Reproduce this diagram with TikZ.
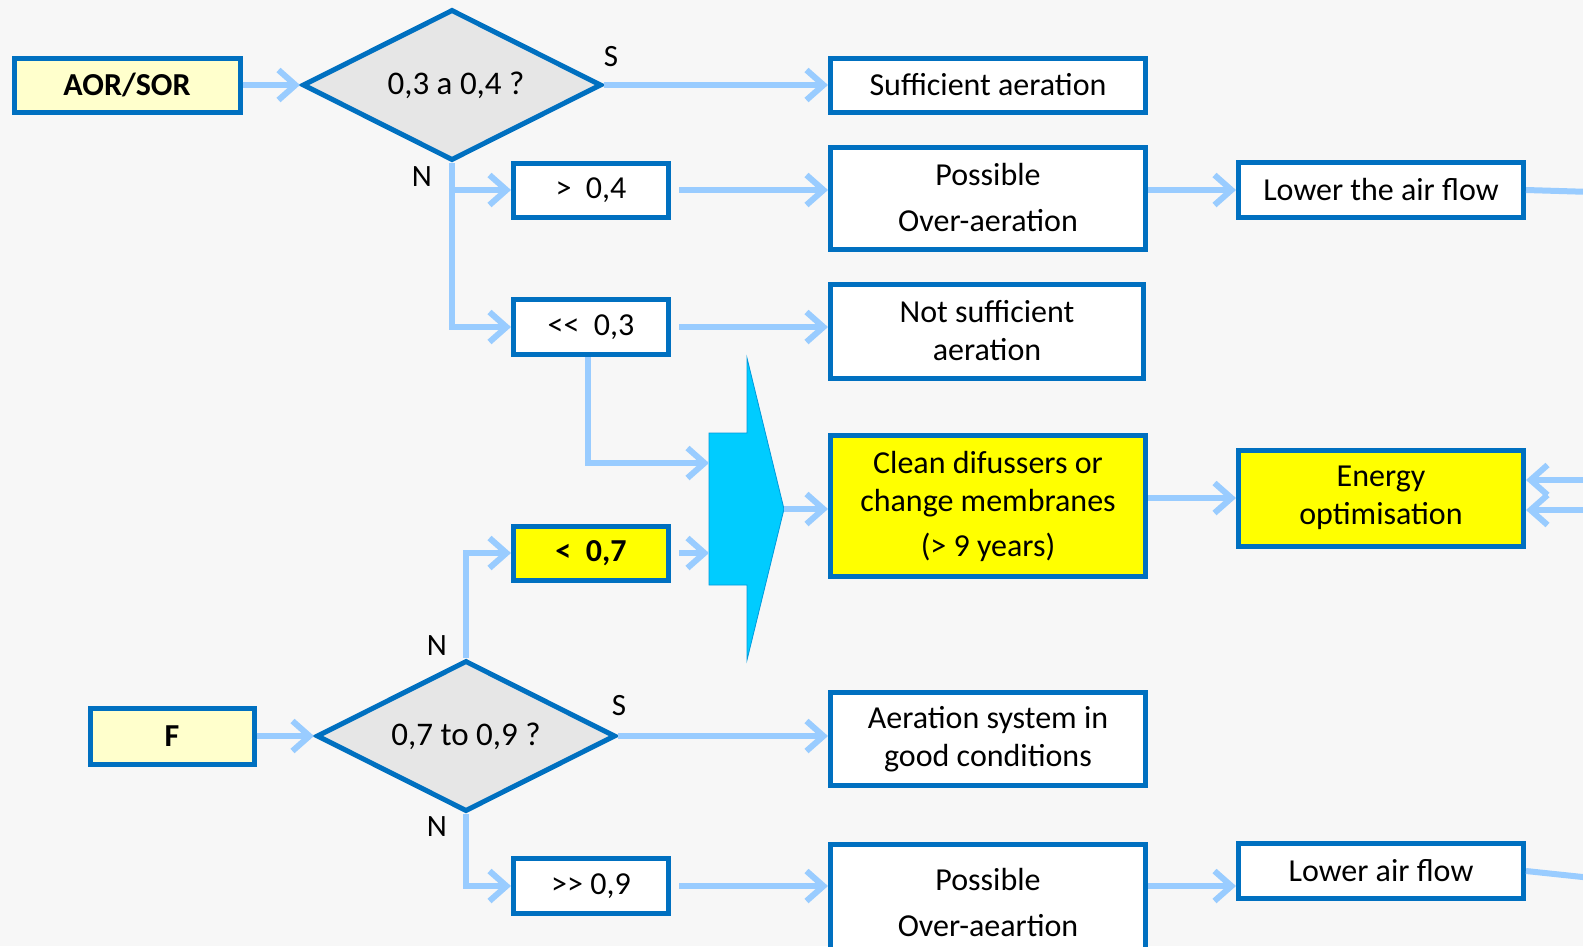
\documentclass[tikz,border=0pt]{standalone}
\usepackage{fontspec}
\setmainfont{Carlito}
\usetikzlibrary{arrows.meta,shapes.geometric}
\definecolor{bordc}{HTML}{0070C0}
\definecolor{connc}{HTML}{99CCFF}
\definecolor{lyelc}{HTML}{FFFFCC}
\definecolor{yelc}{HTML}{FFFF00}
\definecolor{dgrayc}{HTML}{E6E6E6}
\definecolor{cyanc}{HTML}{00CCFF}
\definecolor{cyand}{HTML}{0099DD}
\definecolor{bgc}{HTML}{F7F7F7}
\begin{document}
\begin{tikzpicture}[x=1pt,y=-1pt,
  box/.style={draw=bordc, line width=5pt, fill=white, inner sep=0pt, align=center,
    font=\fontsize{32}{38}\selectfont},
  ybox/.style={box, fill=yelc},
  inbox/.style={box, fill=lyelc},
  dia/.style={diamond, aspect=2.5, draw=bordc, line width=5pt, fill=dgrayc, inner sep=0pt,
    minimum width=299pt, minimum height=151pt, font=\fontsize{33}{38}\selectfont},
  lbl/.style={font=\fontsize{31}{36}\selectfont, inner sep=0pt},
  conn/.style={draw=connc, line width=6pt, -{Straight Barb[length=17pt,width=30pt]}},
  connline/.style={draw=connc, line width=6pt},
]
\useasboundingbox (0,0) rectangle (1583,946);
\fill[bgc] (0,0) rectangle (1583,946);

% top section
\node[inbox, minimum width=226pt, minimum height=54pt] (aor) at (127,85) {\textbf{AOR/SOR}};
\node[dia] (d1) at (452,85) {\hspace{8pt}0,3 a 0,4 ?};
\node[box, minimum width=315pt, minimum height=54pt] (suff) at (988,85) {Sufficient aeration};
\node[box, minimum width=155pt, minimum height=54pt] (g04) at (591,190) {>\ \ 0,4};
\node[box, minimum width=315pt, minimum height=102pt] (pov1) at (988,198) {Possible\\[8pt]Over-aeration};
\node[box, minimum width=285pt, minimum height=55pt] (low1) at (1381,190) {Lower the air flow};
\node[box, minimum width=155pt, minimum height=55pt] (l03) at (591,327) {<\kern0pt<\ \ 0,3};
\node[box, minimum width=313pt, minimum height=94pt] (nsuff) at (987,331) {Not sufficient\\aeration};
\node[ybox, minimum width=315pt, minimum height=141pt] (clean) at (988,506) {Clean difussers or\\change membranes\\[7pt](> 9 years)};
\node[ybox, minimum width=285pt, minimum height=96pt] (energy) at (1381,498) {Energy\\optimisation};
\node[ybox, minimum width=155pt, minimum height=54pt] (l07) at (591,553) {\textbf{<\ \ 0,7}};

% bottom section
\node[inbox, minimum width=164pt, minimum height=56pt] (F) at (172,736) {\textbf{F}};
\node[dia] (d2) at (466,736) {0,7 to 0,9 ?};
\node[box, minimum width=315pt, minimum height=93pt] (aer) at (988,739) {Aeration system in\\good conditions};
\node[box, minimum width=155pt, minimum height=55pt] (g09) at (591,886) {>\kern0pt> 0,9};
\node[box, anchor=north, minimum width=315pt, minimum height=116pt] (pov2) at (988,842)
  {\raisebox{10pt}{\parbox{300pt}{\centering Possible\\[8pt]Over-aeartion}}};
\node[box, minimum width=285pt, minimum height=55pt] (low2) at (1381,871) {Lower air flow};

% labels
\node[lbl] (s1) at (611,57) {S};
\node[lbl] (n1) at (422,177) {N};
\node[lbl] (n2) at (437,646) {N};
\node[lbl] (s2) at (619,706) {S};
\node[lbl] (n3) at (437,827) {N};

% big cyan arrow
\draw[fill=cyanc, draw=cyand, line width=0.8pt]
  (709,433) -- (747,433) -- (747,358) -- (784,509) -- (747,660) -- (747,585) -- (709,585) -- cycle;
\coordinate (shL1) at (709,463);
\coordinate (shL2) at (709,553);
\coordinate (shTip) at (784,509);

% off-picture ends
\coordinate (out1) at (1592,192);
\coordinate (out2) at (1592,878);
\coordinate (in1) at (1592,480);
\coordinate (in2) at (1592,510);

% connectors top
\draw[conn] (aor.east) -- (d1.west);
\draw[conn] (d1.east) -- (suff.west);
\draw[conn] (d1.south) |- (l03.west);
\draw[conn] (d1.south |- g04.west) -- (g04.west);
\draw[conn, shorten <=8pt] (g04.east) -- (g04.east -| pov1.west);
\draw[conn] (pov1.east |- low1.west) -- (low1.west);
\draw[connline] (low1.east) -- (out1);
\draw[conn, shorten <=8pt] (l03.east) -- (l03.east -| nsuff.west);
\draw[conn] ([xshift=-3pt]l03.south) |- (shL1);
\draw[conn, shorten <=8pt] (l07.east) -- (shL2);
\draw[conn] (shTip) -- (shTip -| clean.west);
\draw[conn] (clean.east |- energy.west) -- (energy.west);
\draw[conn] (in1) -- (in1 -| energy.east);
\draw[conn] (in2) -- (in2 -| energy.east);

% connectors bottom
\draw[conn] (d2.north) |- (l07.west);
\draw[conn] (F.east) -- (d2.west);
\draw[conn] (d2.east) -- (d2.east -| aer.west);
\draw[conn] (d2.south) |- (g09.west);
\draw[conn, shorten <=8pt] (g09.east) -- (g09.east -| pov2.west);
\draw[conn] (pov2.east |- g09.east) -- (low2.west |- g09.east);
\draw[connline] (low2.east) -- (out2);
\end{tikzpicture}
\end{document}
